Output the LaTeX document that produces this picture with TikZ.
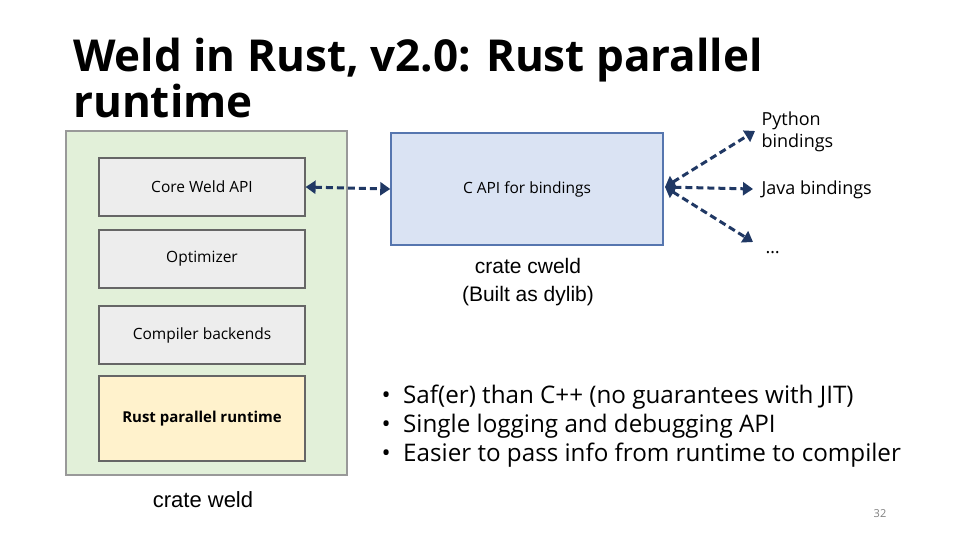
\documentclass[tikz,border=0pt]{standalone}
\usepackage{fontspec}
\setmainfont{Open Sans}
\newfontfamily\arialf{Liberation Sans}
\usetikzlibrary{arrows.meta}
\definecolor{navy}{HTML}{203864}
\definecolor{gfill}{HTML}{E2F0D9}
\definecolor{bfill}{HTML}{DAE3F3}
\definecolor{bdraw}{HTML}{4472C4}
\definecolor{yfill}{HTML}{FFF2CC}
\begin{document}
\begin{tikzpicture}[x=1pt,y=-1pt,
  box/.style={draw=gray!80!black,line width=1.2pt,fill=black!7,minimum width=206pt,minimum height=58pt,font=\fontsize{15.5}{18}\selectfont},
  conn/.style={draw=navy,line width=3pt,dash pattern=on 7pt off 4pt,{Triangle[length=10pt,width=13pt]}-{Triangle[length=10pt,width=13pt]}}]
\useasboundingbox (0,0) rectangle (960,540);
\node[anchor=base west,font=\fontsize{44}{48}\selectfont\bfseries,inner sep=0] (t1) at (73,72) {Weld in Rust, v2.0: Rust parallel};
\node[anchor=base west,font=\fontsize{44}{48}\selectfont\bfseries,inner sep=0] (t2) at (73,118) {runtime};
\node[draw=gray!80,line width=1.2pt,fill=gfill,minimum width=281pt,minimum height=344pt] (weld) at (206.5,303) {};
\node[box] (core) at (202,187) {Core Weld API};
\node[box] (opt) at (202,259) {Optimizer};
\node[box] (comp) at (202,335) {Compiler backends};
\node[box,fill=yfill,minimum height=85pt,font=\fontsize{15}{18}\selectfont\bfseries] (rpr) at (202,418.5) {Rust parallel runtime};
\node[font=\arialf\fontsize{22}{26}\selectfont] (cw) at (203,500) {crate weld};
\node[draw=bdraw!70!gray,line width=1.5pt,fill=bfill,minimum width=272pt,minimum height=112pt,font=\fontsize{15.5}{18}\selectfont] (capi) at (527,189) {C API for bindings};
\node[font=\arialf\fontsize{21}{28}\selectfont,align=center] (cc) at (528,282) {crate cweld\\(Built as dylib)};
\node[anchor=west,align=left,font=\fontsize{18}{22}\selectfont] (py) at (758,132) {Python\\bindings};
\node[anchor=west,font=\fontsize{18}{20}\selectfont] (java) at (758,190) {Java bindings};
\node[anchor=west,font=\fontsize{18}{20}\selectfont] (dots) at (762,253) {\dots};
\coordinate (hub) at (665,187);
\draw[conn] (core.east) -- (capi.west);
\draw[conn] (hub) -- (755,131);
\draw[conn] (hub) -- (753,189);
\draw[conn] (hub) -- (753,242);
\node[anchor=north west,align=left,font=\fontsize{24.2}{29}\selectfont] (bul) at (378,381) {%
\textbullet\ \ Saf(er) than C++ (no guarantees with JIT)\\
\textbullet\ \ Single logging and debugging API\\
\textbullet\ \ Easier to pass info from runtime to compiler};
\node[font=\fontsize{11}{12}\selectfont,text=gray] (pg) at (880,514) {32};
\end{tikzpicture}
\end{document}
